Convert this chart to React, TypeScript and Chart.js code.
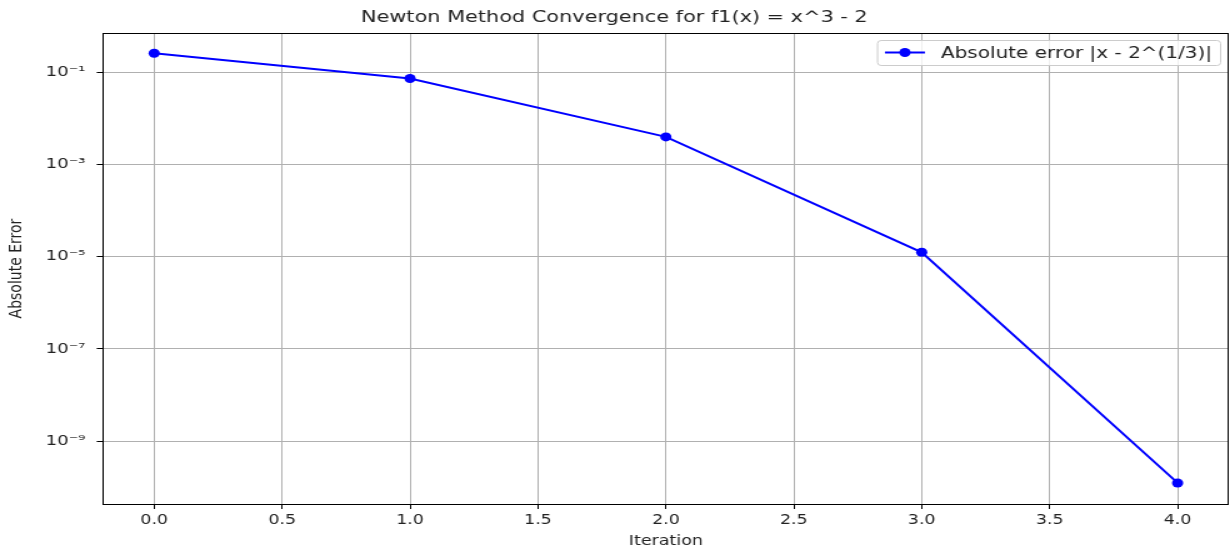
import React, { useEffect, useRef } from 'react';
import { Chart, registerables } from 'chart.js';

Chart.register(...registerables);

// ---- data ----
const iterations = [0, 1, 2, 3, 4];
const absErrors = [0.25992105, 0.0734123, 0.0039678, 1.2443e-5, 1.2289e-10];
const xTickValues = [0, 0.5, 1, 1.5, 2, 2.5, 3, 3.5, 4];
const yTickExponents = [-1, -3, -5, -7, -9];
const titleText = 'Newton Method Convergence for f1(x) = x^3 - 2';
const legendLabel = 'Absolute error |x - 2^(1/3)|';
const xAxisLabel = 'Iteration';
const yAxisLabel = 'Absolute Error';

const SX = 1.25;
const W = 984;
const H = 550;
const FONT = "'DejaVu Sans', 'Liberation Sans', sans-serif";

const SUP: Record<string, string> = {
  '-': '\u207B', '0': '\u2070', '1': '\u00B9', '2': '\u00B2', '3': '\u00B3',
  '4': '\u2074', '5': '\u2075', '6': '\u2076', '7': '\u2077', '8': '\u2078', '9': '\u2079',
};
const sup = (s: string) => s.split('').map((c) => SUP[c] ?? c).join('');

const framePlugin = {
  id: 'frame',
  afterDatasetsDraw(chart: any) {
    const { ctx, chartArea: a } = chart;
    ctx.save();
    ctx.strokeStyle = '#000';
    ctx.lineWidth = 1;
    ctx.strokeRect(Math.round(a.left) + 0.5, Math.round(a.top) + 0.5, Math.round(a.right - a.left) - 1, Math.round(a.bottom - a.top));
    ctx.restore();
  },
};

const legendPlugin = {
  id: 'mplLegend',
  afterDraw(chart: any) {
    const { ctx, chartArea: a } = chart;
    const fs = 16;
    ctx.save();
    ctx.font = `${fs}px ${FONT}`;
    const tw = ctx.measureText(legendLabel).width;
    const pad = 0.4 * fs;
    const handle = 2 * fs;
    const gap = 0.8 * fs;
    const w = pad + handle + gap + tw + pad;
    const h = 25;
    const right = a.right - 7;
    const top = a.top + 7;
    const left = right - w;
    ctx.beginPath();
    ctx.roundRect(left + 0.5, top + 0.5, w, h, 3);
    ctx.fillStyle = 'rgba(255,255,255,0.8)';
    ctx.fill();
    ctx.strokeStyle = '#cccccc';
    ctx.lineWidth = 1;
    ctx.stroke();
    const cy = top + h / 2;
    ctx.beginPath();
    ctx.moveTo(left + pad, cy);
    ctx.lineTo(left + pad + handle, cy);
    ctx.strokeStyle = '#0000ff';
    ctx.lineWidth = 2;
    ctx.stroke();
    ctx.beginPath();
    ctx.arc(left + pad + handle / 2, cy, 4.5, 0, Math.PI * 2);
    ctx.fillStyle = '#0000ff';
    ctx.fill();
    ctx.fillStyle = '#222';
    ctx.textBaseline = 'middle';
    ctx.textAlign = 'left';
    ctx.fillText(legendLabel, left + pad + handle + gap, cy + 1);
    ctx.restore();
  },
};

export default function App() {
  const ref = useRef<HTMLCanvasElement | null>(null);

  useEffect(() => {
    document.body.style.margin = '0';
    document.body.style.overflow = 'hidden';
    if (!ref.current) return;
    const chart = new Chart(ref.current, {
      type: 'line',
      data: {
        datasets: [
          {
            label: legendLabel,
            data: iterations.map((x, i) => ({ x, y: absErrors[i] })),
            borderColor: '#0000ff',
            backgroundColor: '#0000ff',
            borderWidth: 2,
            pointRadius: 4.5,
            pointBackgroundColor: '#0000ff',
            pointBorderColor: '#0000ff',
            pointBorderWidth: 0,
            tension: 0,
          },
        ],
      },
      options: {
        animation: false,
        responsive: false,
        devicePixelRatio: 1,
        layout: { autoPadding: false, padding: { left: 0, right: 1, top: 0, bottom: 0 } },
        plugins: {
          legend: { display: false },
          tooltip: { enabled: false },
          title: {
            display: true,
            text: titleText,
            color: '#222',
            font: { family: FONT, size: 16.67, weight: 'normal' },
            padding: { top: 8, bottom: 5 },
          },
        },
        scales: {
          x: {
            type: 'linear',
            min: -0.2,
            max: 4.2,
            afterBuildTicks: (s: any) => {
              s.ticks = xTickValues.map((v) => ({ value: v }));
            },
            afterFit: (s: any) => {
              s.height = 46;
              s.paddingLeft = 0;
              s.paddingRight = 0;
            },
            ticks: {
              autoSkip: false,
              maxRotation: 0,
              padding: 3,
              color: '#222',
              font: { family: FONT, size: 13.9 },
              callback: (v: any) => Number(v).toFixed(1),
            },
            grid: {
              color: '#b0b0b0',
              lineWidth: 1,
              tickColor: '#000',
              tickLength: 5,
              tickWidth: 1,
            },
            border: { display: false },
            title: {
              display: true,
              text: xAxisLabel,
              color: '#222',
              font: { family: FONT, size: 14 },
              padding: { top: 0, bottom: 0 },
            },
          },
          y: {
            type: 'logarithmic',
            min: Math.pow(10, -10.367),
            max: Math.pow(10, -0.147),
            afterBuildTicks: (s: any) => {
              s.ticks = yTickExponents.map((e) => ({ value: Math.pow(10, e), major: true }));
            },
            afterFit: (s: any) => {
              s.width = 82.4;
              s.paddingTop = 0;
              s.paddingBottom = 0;
            },
            ticks: {
              autoSkip: false,
              padding: 9,
              color: '#222',
              font: { family: FONT, size: 14.5 },
              callback: (v: any) => '10' + sup(String(Math.round(Math.log10(Number(v))))),
            },
            grid: {
              color: '#b0b0b0',
              lineWidth: 1,
              tickColor: '#000',
              tickLength: 5,
              tickWidth: 1,
            },
            border: { display: false },
            title: {
              display: true,
              text: yAxisLabel,
              color: '#222',
              font: { family: FONT, size: 14 },
              padding: { top: 5, bottom: 0 },
            },
          },
        },
      },
      plugins: [framePlugin, legendPlugin],
    } as any);
    return () => chart.destroy();
  }, []);

  return (
    <div style={{ width: W, height: H, transform: `scaleX(${SX})`, transformOrigin: '0 0' }}>
      <canvas ref={ref} width={W} height={H} style={{ display: 'block', width: W, height: H }} />
    </div>
  );
}
